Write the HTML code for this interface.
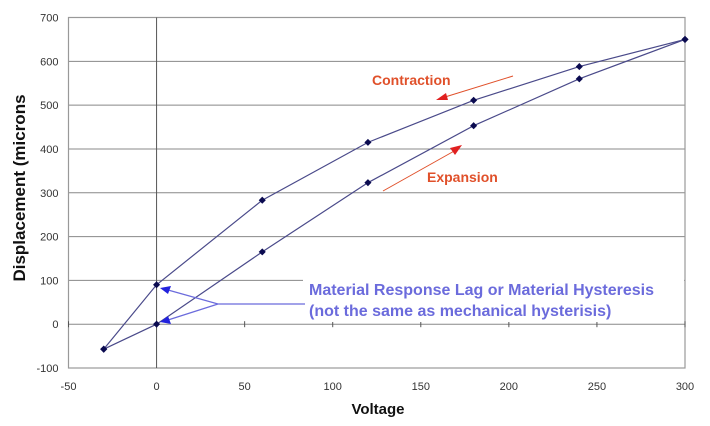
<!DOCTYPE html>
<html><head><meta charset="utf-8"><style>
body{margin:0;background:#fff;}
svg{display:block;font-family:"Liberation Sans",Arial,sans-serif;}
</style></head><body>
<svg id="c" width="710" height="426" viewBox="0 0 710 426"></svg>
<script>
const xTicks=[-50,0,50,100,150,200,250,300];
const yTicks=[-100,0,100,200,300,400,500,600,700];
const expVolt=[-30,0,60,120,180,240,300];
const expDisp=[-57,0,165,323,453,560,650];
const conVolt=[300,240,180,120,60,0,-30];
const conDisp=[650,588,511,415,283,90,-57];
const L=68.5,R=685,T=17.5,B=368;
const X=v=>L+(v+50)/350*(R-L);
const Y=v=>B-(v+100)/800*(B-T);
const s=document.getElementById('c');
const NS='http://www.w3.org/2000/svg';
function el(t,a,name,txt){const e=document.createElementNS(NS,t);for(const k in a)e.setAttribute(k,a[k]);


if(txt!==undefined)e.textContent=txt;s.appendChild(e);return e;}
yTicks.forEach(v=>{el('line',{x1:L,x2:R,y1:Y(v),y2:Y(v),stroke:'#888','stroke-width':1},'gridline-y');
el('text',{x:L-10,y:Y(v)+4,'text-anchor':'end','font-size':11,fill:'#333'},'y-tick-label',v);});
el('rect',{x:L,y:T,width:R-L,height:B-T,fill:'none',stroke:'#999','stroke-width':1.2},'plot-border');
el('line',{x1:X(0),x2:X(0),y1:T,y2:B,stroke:'#555','stroke-width':1},'zero-axis-line');
xTicks.forEach(v=>{el('line',{x1:X(v),x2:X(v),y1:Y(0)-3,y2:Y(0)+3,stroke:'#555'},'x-tick');
el('text',{x:X(v),y:B+22,'text-anchor':'middle','font-size':11,fill:'#333'},'x-tick-label',v);});
function series(xs,ys,name){el('polyline',{points:xs.map((v,i)=>X(v)+','+Y(ys[i])).join(' '),fill:'none',stroke:'#4a4a8a','stroke-width':1.2},name+'-line');
xs.forEach((v,i)=>el('rect',{x:X(v)-2.5,y:Y(ys[i])-2.5,width:5,height:5,fill:'#0b0b50',transform:`rotate(45 ${X(v)} ${Y(ys[i])})`},name+'-point'));}
series(expVolt,expDisp,'expansion');
series(conVolt,conDisp,'contraction');
el('rect',{x:303,y:276,width:381,height:46,fill:'#fff'},'annotation-bg');
el('text',{x:309,y:295,'font-size':16,'font-weight':'bold',fill:'#6b6bdc'},'annotation-line1','Material Response Lag or Material Hysteresis');
el('text',{x:309,y:316,'font-size':16,'font-weight':'bold',fill:'#6b6bdc'},'annotation-line2','(not the same as mechanical hysterisis)');
el('path',{d:`M305 304 L218 304 L168 290 M218 304 L168 320`,fill:'none',stroke:'#6b6bdc','stroke-width':1.2},'annotation-arrows');
el('polygon',{points:'160,288 171,286 168,294',fill:'#2222dd'},'arrowhead-top');
el('polygon',{points:'160,322 168,316 171,324',fill:'#2222dd'},'arrowhead-bottom');
el('text',{x:372,y:85,'font-size':14,'font-weight':'bold',fill:'#e0502a'},'contraction-label','Contraction');
el('line',{x1:513,y1:76,x2:445,y2:97,stroke:'#e0502a'},'contraction-arrow');
el('polygon',{points:'436,100 446,93 448,100',fill:'#e02020'},'contraction-arrowhead');
el('text',{x:427,y:182,'font-size':14,'font-weight':'bold',fill:'#e0502a'},'expansion-label','Expansion');
el('line',{x1:383,y1:191,x2:456,y2:150,stroke:'#e0502a'},'expansion-arrow');
el('polygon',{points:'462,145 450,148 455,155',fill:'#e02020'},'expansion-arrowhead');
el('text',{x:378,y:414,'text-anchor':'middle','font-size':15,'font-weight':'bold',fill:'#111'},'x-axis-title','Voltage');
el('text',{x:0,y:0,'text-anchor':'middle','font-size':17,'font-weight':'bold',fill:'#111',transform:'translate(25,188) rotate(-90)'},'y-axis-title','Displacement (microns');
</script>
</body></html>
